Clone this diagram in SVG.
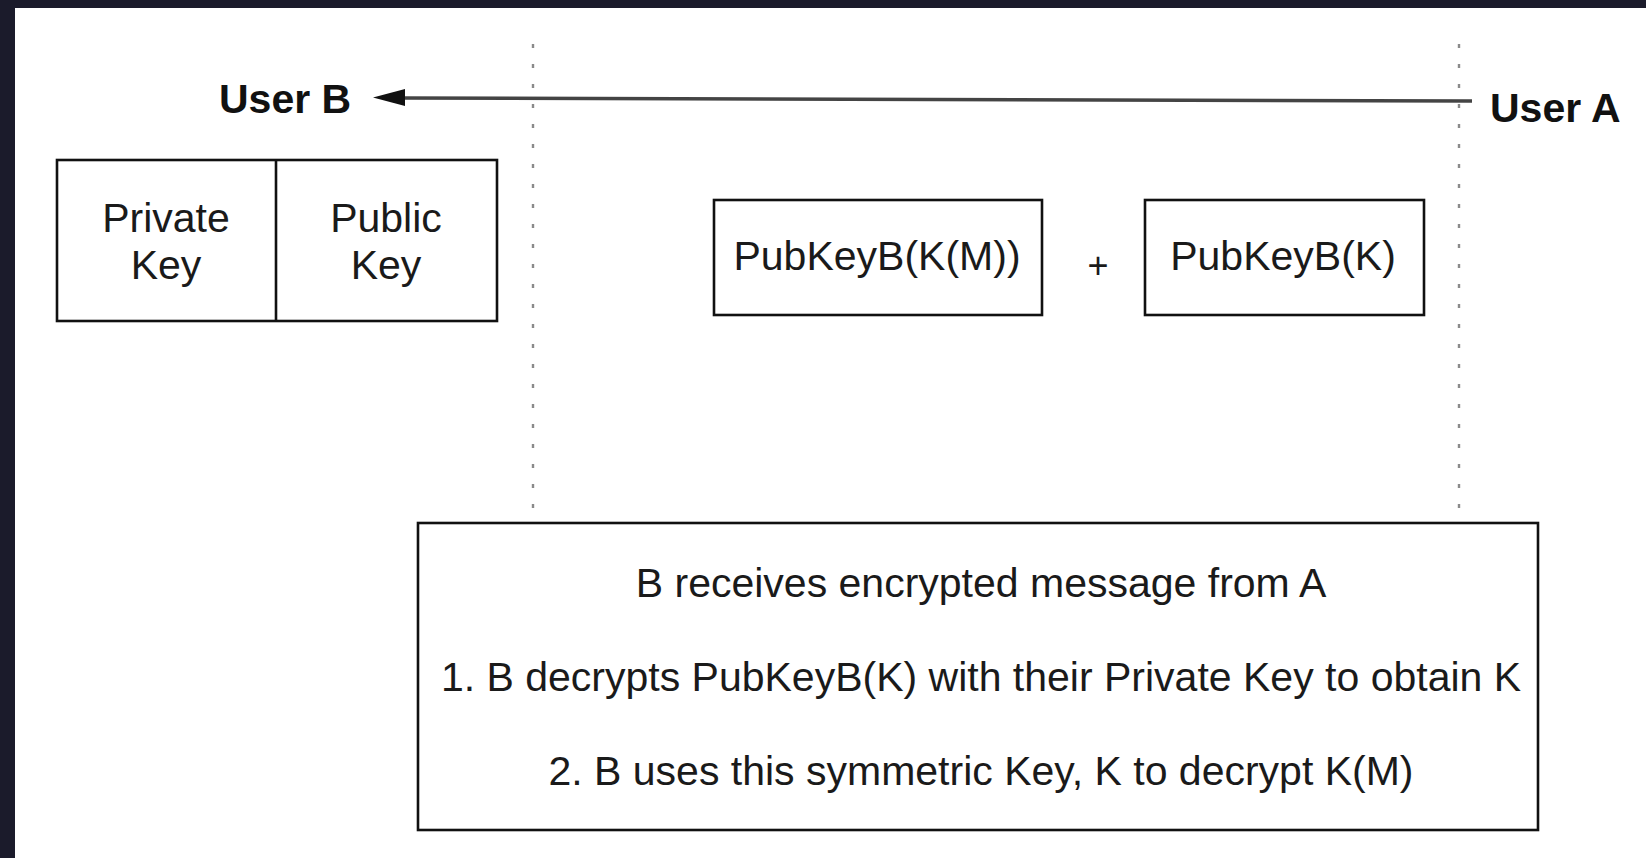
<svg xmlns="http://www.w3.org/2000/svg" width="1646" height="858" viewBox="0 0 1646 858">
<style>
.box{fill:#fff;stroke:#111;stroke-width:2.6}
.t{font-family:"Liberation Sans",Arial,sans-serif;font-size:41px;fill:#1a1a1a;text-anchor:middle}
.b{font-family:"Liberation Sans",Arial,sans-serif;font-size:41px;font-weight:bold;fill:#111}
.dot{stroke:#8a8a8a;stroke-width:2.4;stroke-dasharray:4 16;fill:none}
</style>
<rect x="0" y="0" width="1646" height="858" fill="#1b1b2b"/>
<rect x="15" y="8" width="1631" height="850" fill="#ffffff"/>
<g id="lifelines">
<line class="dot" x1="533" y1="44" x2="533" y2="516"/>
<line class="dot" x1="1459" y1="44" x2="1459" y2="516"/>
</g>
<g id="connectors">
<line x1="1472" y1="101" x2="402" y2="98" stroke="#444" stroke-width="3.6"/>
<path d="M373,97.5 L405,89 L405,106 Z" fill="#111"/>
</g>
<g id="userB"><text class="b" x="219" y="113">User B</text></g>
<g id="userA"><text class="b" x="1490" y="122">User A</text></g>
<g id="keys">
<rect class="box" x="57" y="160" width="440" height="161"/>
<line x1="276" y1="160" x2="276" y2="321" stroke="#111" stroke-width="2.6"/>
<text class="t" x="166" y="232">Private</text>
<text class="t" x="166" y="279">Key</text>
<text class="t" x="386" y="232">Public</text>
<text class="t" x="386" y="279">Key</text>
</g>
<g id="encMsg">
<rect class="box" x="714" y="200" width="328" height="115"/>
<text class="t" x="877" y="270">PubKeyB(K(M))</text>
</g>
<g id="plus"><text class="t" x="1098" y="278" style="font-size:36px">+</text></g>
<g id="encKey">
<rect class="box" x="1145" y="200" width="279" height="115"/>
<text class="t" x="1283" y="270">PubKeyB(K)</text>
</g>
<g id="note">
<rect class="box" x="418" y="523" width="1120" height="307"/>
<text class="t" x="981" y="597">B receives encrypted message from A</text>
<text class="t" x="981" y="691">1. B decrypts PubKeyB(K) with their Private Key to obtain K</text>
<text class="t" x="981" y="785">2. B uses this symmetric Key, K to decrypt K(M)</text>
</g>
</svg>
